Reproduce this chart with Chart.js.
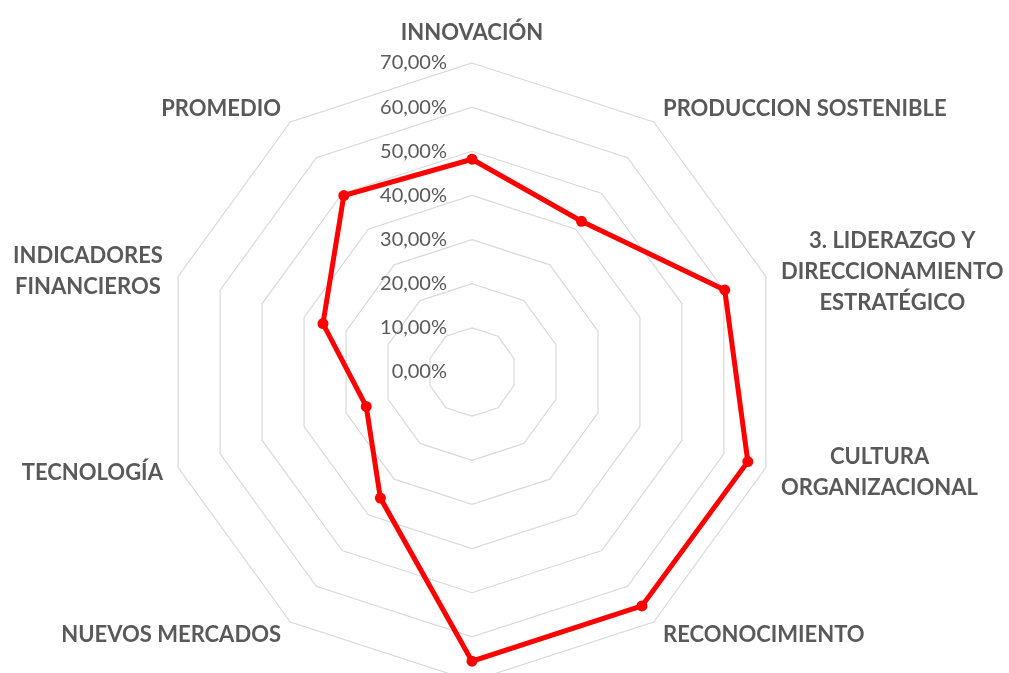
<!DOCTYPE html>
<html>
<head>
<meta charset="utf-8">
<script src="https://cdn.jsdelivr.net/npm/chart.js@4.4.0/dist/chart.umd.min.js"></script>
<style>
  html, body { margin: 0; padding: 0; background: #fff; overflow: hidden; }
  #wrap { position: relative; width: 1009px; height: 744px; }
</style>
</head>
<body>
<div id="wrap"><canvas id="radar"></canvas></div>
<script>
// Radar: perfil por dimensión (%)
// categories go clockwise from the top; the bottom one is cropped in the source
const categories = [
  ['INNOVACIÓN'],
  ['PRODUCCION SOSTENIBLE'],
  ['3. LIDERAZGO Y', 'DIRECCIONAMIENTO', 'ESTRATÉGICO'],
  ['CULTURA', 'ORGANIZACIONAL'],
  ['RECONOCIMIENTO'],
  [''],
  ['NUEVOS MERCADOS'],
  ['TECNOLOGÍA'],
  ['INDICADORES', 'FINANCIEROS'],
  ['PROMEDIO']
];
const values = [48.2, 42.2, 60.2, 65.7, 65.5, 65.5, 35.3, 25.2, 35.5, 49.4];
const tickMax = 70;
const tickStep = 10;

const grey = '#595959';
const labelFont = 'bold 22px Lato, "Liberation Sans", sans-serif';
const tickFont = '20px Lato, "Liberation Sans", sans-serif';

function fmtPct(v) {
  return v.toFixed(2).replace('.', ',') + '%';
}

// tick labels sit left of the vertical axis, including 0,00%
const tickLabelPlugin = {
  id: 'tickLabels',
  afterDraw(chart) {
    const r = chart.scales.r;
    const c = chart.ctx;
    c.save();
    c.font = tickFont;
    c.fillStyle = grey;
    c.textAlign = 'right';
    c.textBaseline = 'middle';
    r.ticks.forEach(t => {
      const y = r.yCenter - r.getDistanceFromCenterForValue(t.value);
      c.fillText(fmtPct(t.value), r.xCenter - 25, y);
    });
    c.restore();
  }
};

// category labels placed just outside the outer ring
const pointLabelPlugin = {
  id: 'catLabels',
  afterDraw(chart) {
    const r = chart.scales.r;
    const c = chart.ctx;
    const lineH = 31;
    c.save();
    c.font = labelFont;
    c.fillStyle = grey;
    c.textBaseline = 'middle';
    c.textAlign = 'center';
    categories.forEach((lines, i) => {
      const deg = i * 360 / categories.length;
      const p = r.getPointPosition(i, r.drawingArea + 16);
      const w = Math.max(...lines.map(l => c.measureText(l).width));
      let cx, cy = p.y - (lines.length - 1) * lineH / 2;
      if (deg === 0) { cx = p.x; cy = p.y - 14; }
      else if (deg === 180) { cx = p.x; cy = p.y + 14; }
      else if (deg < 180) cx = p.x + w / 2;
      else cx = p.x - w / 2;
      lines.forEach((l, k) => c.fillText(l, cx, cy + k * lineH));
    });
    c.restore();
  }
};

new Chart(document.getElementById('radar'), {
  type: 'radar',
  data: {
    labels: categories,
    datasets: [{
      data: values,
      borderColor: '#ff0000',
      backgroundColor: '#ff0000',
      borderWidth: 5,
      pointRadius: 5.5,
      pointBackgroundColor: '#ff0000',
      pointBorderColor: '#ff0000',
      pointBorderWidth: 0,
      fill: false,
      tension: 0
    }]
  },
  options: {
    responsive: true,
    maintainAspectRatio: false,
    animation: false,
    layout: { padding: { left: 163, right: 228, top: 63, bottom: 63 } },
    plugins: {
      legend: { display: false },
      tooltip: { enabled: false }
    },
    scales: {
      r: {
        min: 0,
        max: tickMax,
        ticks: { stepSize: tickStep, display: false },
        grid: { color: '#d9d9d9', lineWidth: 1.2 },
        angleLines: { display: false },
        pointLabels: { display: false }
      }
    }
  },
  plugins: [tickLabelPlugin, pointLabelPlugin]
});
</script>
</body>
</html>
